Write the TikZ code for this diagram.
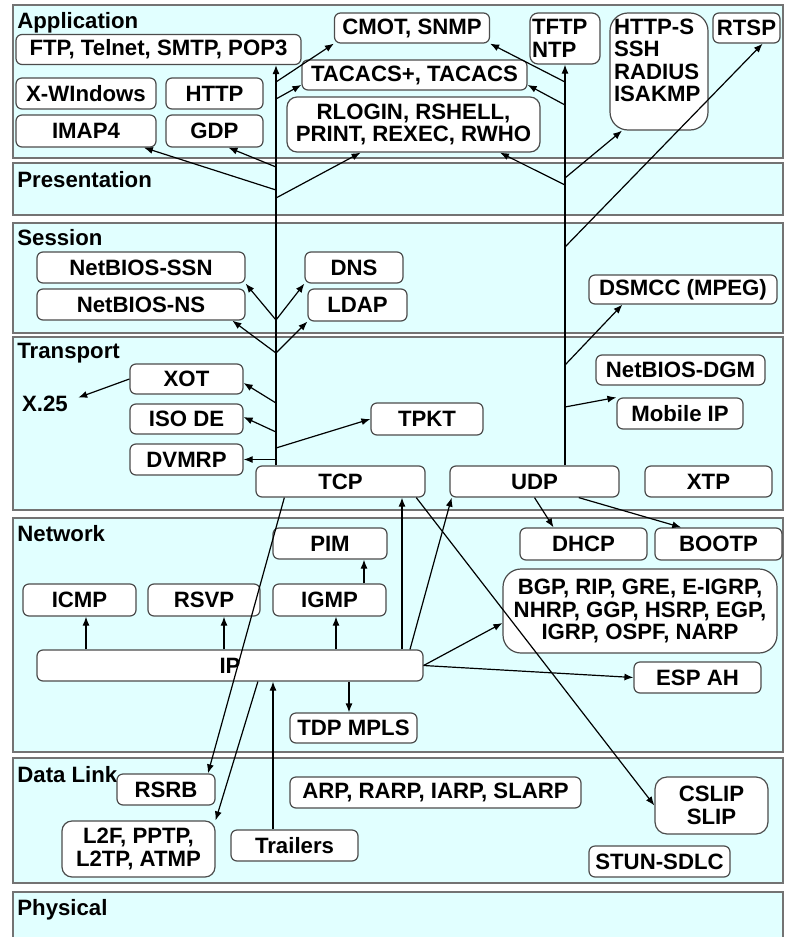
\documentclass[tikz,border=0pt]{standalone}
\usepackage{fontspec}
\setmainfont{Liberation Sans}
\usetikzlibrary{arrows.meta}
\definecolor{layerfill}{RGB}{225,255,255}
\begin{document}
\begin{tikzpicture}[x=0.5pt, y=-0.5pt,
		font=\fontsize{11.1}{11.2}\selectfont\bfseries,
		box/.style={draw=black!70, line width=0.6pt, fill=white, rounded corners=3pt, inner sep=0pt, align=center},
		layer/.style={draw=black!55, line width=0.7pt, fill=layerfill},
		tag/.style={anchor=base west, inner sep=0pt},
		link/.style={draw=black, line width=0.6pt, -{Latex[length=4.5pt, width=3.5pt]}}]
		\useasboundingbox (0,0) rectangle (786,937);
		\fill[white] (0,0) rectangle (786,937);
		\clip (0,0) rectangle (786,937);

		\filldraw[layer] (13,5) rectangle (783,158);
		\filldraw[layer] (13,163) rectangle (783,215);
		\filldraw[layer] (13,223) rectangle (783,333);
		\filldraw[layer] (13,337) rectangle (783,510);
		\filldraw[layer] (13,518) rectangle (783,752);
		\filldraw[layer] (13,758) rectangle (783,883);
		\filldraw[layer] (13,892) rectangle (783,960);

		\node[tag] (lapp) at (17,28) {Application};
		\node[tag] (lpres) at (17,187) {Presentation};
		\node[tag] (lsess) at (17,245) {Session};
		\node[tag] (ltrans) at (17,358) {Transport};
		\node[tag] (lnet) at (17,541) {Network};
		\node[tag] (llink) at (17,782) {Data Link};
		\node[tag] (lphys) at (17,915) {Physical};

		\node[box, minimum width=142.5pt, minimum height=15pt] (ftp) at (158.5,49.5) {FTP, Telnet, SMTP, POP3};
		\node[box, minimum width=77.5pt, minimum height=15pt] (cmot) at (412,28) {CMOT, SNMP};
		\node[box, rounded corners=4pt, text width=33pt, align=left, minimum width=35pt, minimum height=25.5pt] (tftp) at (565,38.5) {TFTP\\NTP};
		\node[box, rounded corners=9pt, text width=45pt, align=left, minimum width=49pt, minimum height=58.5pt] (https) at (659,71.5) {HTTP-S\\SSH\\RADIUS\\ISAKMP\\~};
		\node[box, minimum width=33.5pt, minimum height=15pt] (rtsp) at (746.5,28) {RTSP};
		\node[box, minimum width=70pt, minimum height=15.5pt] (xwin) at (86,93.5) {X-WIndows};
		\node[box, minimum width=48.5pt, minimum height=15.5pt] (http) at (214.5,93.5) {HTTP};
		\node[box, minimum width=70pt, minimum height=16pt] (imap) at (86,131) {IMAP4};
		\node[box, minimum width=48.5pt, minimum height=16pt] (gdp) at (214.5,131) {GDP};
		\node[box, minimum width=112.5pt, minimum height=15pt] (tacacs) at (414.5,75) {TACACS+, TACACS};
		\node[box, rounded corners=5pt, minimum width=126.5pt, minimum height=27.5pt] (rlogin) at (413.5,124.5) {RLOGIN, RSHELL,\\PRINT, REXEC, RWHO};

		\node[box, minimum width=104pt, minimum height=15.5pt] (netssn) at (141,267.5) {NetBIOS-SSN};
		\node[box, minimum width=104pt, minimum height=15.5pt] (netns) at (141,304.5) {NetBIOS-NS};
		\node[box, minimum width=49pt, minimum height=15.5pt] (dns) at (354,267.5) {DNS};
		\node[box, minimum width=49.5pt, minimum height=16pt] (ldap) at (357.5,305) {LDAP};
		\node[box, minimum width=94pt, minimum height=14.5pt] (dsmcc) at (683,289.5) {DSMCC (MPEG)};

		\node[box, minimum width=56.5pt, minimum height=15pt] (xot) at (186.5,379) {XOT};
		\node[inner sep=5pt] (x25) at (45,403.5) {X.25};
		\node[box, minimum width=56.5pt, minimum height=15pt] (isode) at (186.5,419) {ISO DE};
		\node[box, minimum width=56.5pt, minimum height=15.5pt] (dvmrp) at (186.5,459.5) {DVMRP};
		\node[box, minimum width=56pt, minimum height=16pt] (tpkt) at (427,419) {TPKT};
		\node[box, minimum width=84.5pt, minimum height=15.5pt] (tcp) at (340.5,481.5) {TCP};
		\node[box, minimum width=84.5pt, minimum height=15.5pt] (udp) at (534.5,481.5) {UDP};
		\node[box, minimum width=63.5pt, minimum height=15.5pt] (xtp) at (708.5,481.5) {XTP};
		\node[box, minimum width=84.5pt, minimum height=15pt] (netdgm) at (680.5,370) {NetBIOS-DGM};
		\node[box, minimum width=63pt, minimum height=15.5pt] (mobip) at (680,413.5) {Mobile IP};

		\node[box, minimum width=57pt, minimum height=15.5pt] (pim) at (330,543.5) {PIM};
		\node[box, minimum width=56.5pt, minimum height=16pt] (icmp) at (79.5,600) {ICMP};
		\node[box, minimum width=56pt, minimum height=16pt] (rsvp) at (204,600) {RSVP};
		\node[box, minimum width=56.5pt, minimum height=16pt] (igmp) at (329.5,600) {IGMP};
		\node[box, minimum width=193pt, minimum height=15.5pt] (ip) at (230,665.5) {IP};
		\node[box, minimum width=63.5pt, minimum height=15pt] (tdp) at (353.5,728) {TDP MPLS};
		\node[box, minimum width=63.5pt, minimum height=16pt] (dhcp) at (583.5,544) {DHCP};
		\node[box, minimum width=63.5pt, minimum height=16pt] (bootp) at (718.5,544) {BOOTP};
		\node[box, rounded corners=9pt, minimum width=137pt, minimum height=42pt] (bgp) at (640,611) {BGP, RIP, GRE, E-IGRP,\\NHRP, GGP, HSRP, EGP,\\IGRP, OSPF, NARP};
		\node[box, minimum width=63.5pt, minimum height=15.5pt] (espah) at (697.5,677.5) {ESP AH};

		\node[box, minimum width=49pt, minimum height=15.5pt] (rsrb) at (166,789.5) {RSRB};
		\node[box, rounded corners=5pt, minimum width=76.5pt, minimum height=28pt] (l2f) at (138.5,849) {L2F, PPTP,\\L2TP, ATMP};
		\node[box, minimum width=63.5pt, minimum height=15.5pt] (trailers) at (294.5,845.5) {Trailers};
		\node[box, minimum width=145.5pt, minimum height=15.5pt] (arp) at (435.5,792.5) {ARP, RARP, IARP, SLARP};
		\node[box, rounded corners=6pt, minimum width=56.5pt, minimum height=28.5pt] (cslip) at (711.5,805.5) {CSLIP\\SLIP};
		\node[box, minimum width=70.5pt, minimum height=15.5pt] (stun) at (659.5,861.5) {STUN-SDLC};

		\coordinate (tl) at (276,0);
		\coordinate (ul) at (565,0);
		\coordinate (ta1) at (276,82);
		\coordinate (ta2) at (276,99);
		\coordinate (ta3) at (276,167);
		\coordinate (ta4) at (276,190);
		\coordinate (ta5) at (276,198);
		\coordinate (ua1) at (565,82);
		\coordinate (ua2) at (565,105);
		\coordinate (ua3) at (565,185);
		\coordinate (ua4) at (565,178);
		\coordinate (ua5) at (565,247);
		\coordinate (tb1) at (276,320);
		\coordinate (tb2) at (276,353);
		\coordinate (ub1) at (565,365);
		\coordinate (tc1) at (276,403);
		\coordinate (tc2) at (276,432);
		\coordinate (tc3) at (276,448);
		\coordinate (tc4) at (276,459.5);
		\coordinate (uc1) at (565,407);
		\coordinate (x1) at (86,0);
		\coordinate (x2) at (224,0);
		\coordinate (x3) at (336,0);
		\coordinate (x4) at (364,0);
		\coordinate (x5) at (349,0);
		\coordinate (x6) at (402,0);
		\coordinate (x7) at (273,0);
		\coordinate (x8) at (410,0);

		\draw[link] (tcp.north -| tl) -- (ftp.south -| tl);
		\draw[link] (udp.north -| ul) -- (tftp.south);

		\draw[link] (ta1) -- (cmot.south west);
		\draw[link] (ta2) -- (tacacs.185);
		\draw[link] (ta3) -- (gdp.-50);
		\draw[link] (ta4) -- (imap.-16);
		\draw[link] (ta5) -- (rlogin.208);
		\draw[link] (ua1) -- (cmot.south east);
		\draw[link] (ua2) -- (tacacs.-5);
		\draw[link] (ua3) -- (rlogin.-18);
		\draw[link] (ua4) -- (https.238);
		\draw[link] (ua5) -- (rtsp.-44);

		\draw[link] (tb1) -- (netssn.south east);
		\draw[link] (tb1) -- (dns.south west);
		\draw[link] (tb2) -- (netns.-10);
		\draw[link] (tb2) -- (ldap.south west);
		\draw[link] (ub1) -- (dsmcc.194);

		\draw[link] (tc1) -- (xot.-4);
		\draw[link] (tc2) -- (isode.2);
		\draw[link] (tc3) -- (tpkt.west);
		\draw[link] (tc4) -- (dvmrp.east);
		\draw[link] (xot.west) -- (x25.10);
		\draw[link] (uc1) -- (mobip.north west);

		\draw[link] (ip.north -| x1) -- (icmp.south -| x1);
		\draw[link] (ip.north -| x2) -- (rsvp.south -| x2);
		\draw[link] (ip.north -| x3) -- (igmp.south -| x3);
		\draw[link] (igmp.north -| x4) -- (pim.south -| x4);
		\draw[link] (ip.south -| x5) -- (tdp.north -| x5);
		\draw[link] (ip.north -| x6) -- (tcp.south -| x6);
		\draw[link] (ip.north -| x8) -- (udp.191);
		\draw[link] (ip.east) -- (bgp.185);
		\draw[link] (ip.east) -- (espah.west);
		\draw[link] (udp.south) -- (dhcp.151);
		\draw[link] (udp.-20) -- (bootp.156);
		\draw[link] (tcp.-12) -- (cslip.west);
		\draw[link] (tcp.196) -- (rsrb.21);
		\draw[link] (ip.-30) -- (l2f.north east);
		\draw[link] (trailers.north -| x7) -- (ip.south -| x7);
	\end{tikzpicture}
\end{document}
